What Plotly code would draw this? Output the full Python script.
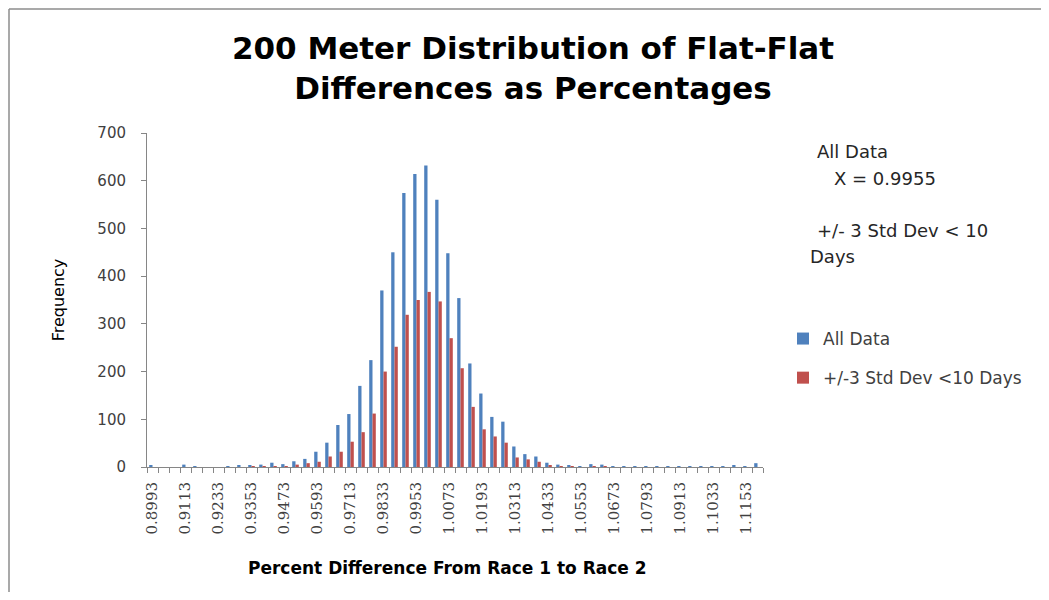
import plotly.graph_objects as go

# Bin labels (lower edge of each 0.004-wide bin)
categories = [
    "0.8993", "0.9033", "0.9073", "0.9113", "0.9153", "0.9193", "0.9233", "0.9273",
    "0.9313", "0.9353", "0.9393", "0.9433", "0.9473", "0.9513", "0.9553", "0.9593",
    "0.9633", "0.9673", "0.9713", "0.9753", "0.9793", "0.9833", "0.9873", "0.9913",
    "0.9953", "0.9993", "1.0033", "1.0073", "1.0113", "1.0153", "1.0193", "1.0233",
    "1.0273", "1.0313", "1.0353", "1.0393", "1.0433", "1.0473", "1.0513", "1.0553",
    "1.0593", "1.0633", "1.0673", "1.0713", "1.0753", "1.0793", "1.0833", "1.0873",
    "1.0913", "1.0953", "1.0993", "1.1033", "1.1073", "1.1113", "1.1153", "1.1193",
]

all_data = [
    4, 0, 0, 5, 2, 0, 0, 1,
    3, 3, 5, 9, 6, 12, 17, 32,
    51, 88, 111, 170, 224, 370, 450, 574,
    614, 632, 560, 448, 354, 217, 154, 105,
    95, 43, 27, 22, 9, 5, 4, 2,
    6, 5, 2, 1, 1, 1, 2, 2,
    1, 2, 1, 1, 2, 3, 2, 8,
]

std_dev_10 = [
    0, 0, 0, 0, 0, 0, 0, 0,
    0, 1, 1, 2, 2, 5, 8, 11,
    22, 32, 53, 73, 112, 200, 252, 319,
    350, 367, 347, 270, 207, 126, 79, 64,
    51, 20, 16, 11, 3, 2, 1, 0,
    1, 1, 0, 0, 0, 0, 0, 0,
    0, 0, 0, 0, 0, 0, 0, 0,
]

# labelled every third bin
tick_labels = categories[::3]

positions = list(range(len(categories)))
tick_positions = positions[::3]

BLUE = "#4F81BD"
RED = "#C0504D"
AXIS = "#868686"
SANS = "'DejaVu Sans', sans-serif"
SERIF = "'DejaVu Serif', serif"

# page body has an 8px margin: work in screen pixels and shift by it
OFF = 8
W, H = 1049 - 2 * OFF, 600 - 2 * OFF
PL, PR, PT, PB = 147, 763, 133, 467          # plot area in screen px
L, T = PL - OFF, PT - OFF
R, B = W - (PR - OFF), H - (PB - OFF)
pw, ph = W - L - R, H - T - B


def px_x(sx):
    return (sx - OFF - L) / pw


def px_y(sy):
    return (H - B - (sy - OFF)) / ph


fig = go.Figure()
fig.add_trace(go.Bar(x=positions, y=all_data, name="All Data",
                     marker=dict(color=BLUE, line=dict(width=0)),
                     legendgroup="a", customdata=categories,
                     hovertemplate="%{customdata}: %{y}<extra>All Data</extra>"))
fig.add_trace(go.Bar(x=positions, y=std_dev_10, name="+/-3 Std Dev <10 Days",
                     marker=dict(color=RED, line=dict(width=0)),
                     legendgroup="b", customdata=categories,
                     hovertemplate="%{customdata}: %{y}<extra>+/-3 Std Dev <10 Days</extra>"))

fig.update_layout(
    width=W, height=H,
    margin=dict(l=L, r=R, t=T, b=B, autoexpand=False),
    paper_bgcolor="white", plot_bgcolor="white",
    barmode="group", bargap=0.4, bargroupgap=0.0,
    font=dict(family=SANS, color="#404040"),
    title=dict(
        text="<b>200 Meter Distribution of Flat-Flat<br>Differences as Percentages</b>",
        x=(533 - OFF) / W, xanchor="center", xref="container",
        y=1 - 51 / H, yanchor="middle", yref="container",
        font=dict(family=SANS, size=31, color="#000000"),
    ),
    legend=dict(
        x=px_x(783), y=px_y(321), xanchor="left", yanchor="top",
        font=dict(family=SANS, size=17, color="#404040"),
        tracegroupgap=14, bgcolor="rgba(0,0,0,0)", itemwidth=30,
    ),
    showlegend=True,
)

fig.update_xaxes(
    range=[-0.5, len(categories) - 0.5],
    tickmode="array", tickvals=tick_positions, ticktext=tick_labels,
    tickangle=-90, ticks="", ticklabelstandoff=8,
    tickfont=dict(family=SERIF, size=15, color="#404040"),
    showline=True, linecolor=AXIS, linewidth=1, showgrid=False, zeroline=False,
    minor=dict(tickmode="linear", tick0=-0.5, dtick=1, ticks="outside",
               ticklen=5, tickcolor=AXIS, showgrid=False),
    automargin=False, fixedrange=True,
)

fig.update_yaxes(
    range=[0, 700], tickmode="linear", tick0=0, dtick=100,
    ticks="outside", ticklen=5, tickcolor=AXIS, ticklabelstandoff=12,
    tickfont=dict(family=SANS, size=15, color="#404040"),
    showline=True, linecolor=AXIS, linewidth=1, showgrid=False, zeroline=False,
    title=dict(text="Frequency",
               font=dict(family=SANS, size=16, color="#000000"), standoff=28),
    automargin=False, fixedrange=True,
)

# x-axis title (placed slightly left of the plot centre, as in the original)
fig.add_annotation(text="<b>Percent Difference From Race 1 to Race 2</b>",
                   xref="paper", yref="paper", x=px_x(447), y=px_y(568),
                   xanchor="center", yanchor="middle", showarrow=False,
                   font=dict(family=SANS, size=17, color="#000000"))

# notes at the right of the chart (screen px positions)
notes = [
    ("All Data", 815, 152),
    ("X = 0.9955", 832, 178),
    ("+/- 3 Std Dev < 10", 815, 230),
    ("Days", 808, 256),
]
for text, nx, ny in notes:
    fig.add_annotation(text=text, xref="paper", yref="paper",
                       x=px_x(nx), y=px_y(ny), xanchor="left", yanchor="middle",
                       showarrow=False,
                       font=dict(family=SANS, size=18, color="#262626"))

# chart-area frame (top and left edges visible)
fig.add_shape(type="line", xref="paper", yref="paper",
              x0=px_x(9), x1=px_x(1060), y0=px_y(9), y1=px_y(9),
              line=dict(color="#8C8C8C", width=1.5))
fig.add_shape(type="line", xref="paper", yref="paper",
              x0=px_x(9), x1=px_x(9), y0=px_y(9), y1=px_y(610),
              line=dict(color="#8C8C8C", width=1.5))

fig.write_html("out.html")
